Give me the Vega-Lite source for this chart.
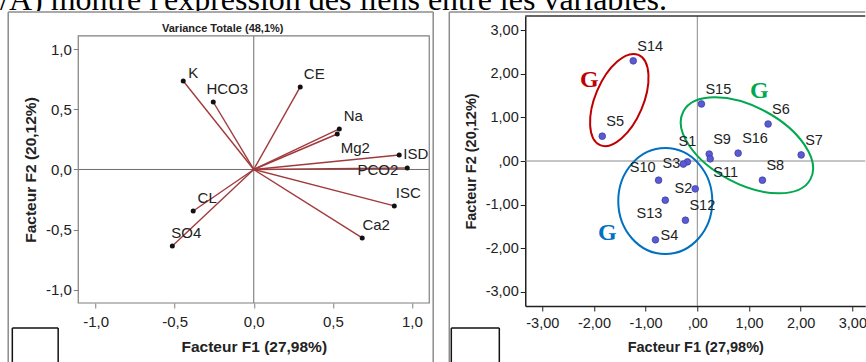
{
  "$schema": "https://vega.github.io/schema/vega-lite/v6.json",
  "padding": {"left": 0, "top": 0, "right": 0, "bottom": 0},
  "background": "white",
  "config": {"view": {"stroke": null}, "font": "Liberation Sans", "axis": {"grid": false}},
  "datasets": {
    "loadings": [
      {"var": "K", "x": -0.446, "y": 0.736},
      {"var": "HCO3", "x": -0.256, "y": 0.561},
      {"var": "CE", "x": 0.294, "y": 0.686},
      {"var": "Na", "x": 0.541, "y": 0.337},
      {"var": "Mg2", "x": 0.528, "y": 0.295},
      {"var": "ISD", "x": 0.92, "y": 0.121},
      {"var": "PCO2", "x": 0.971, "y": 0.012},
      {"var": "ISC", "x": 0.889, "y": -0.303},
      {"var": "Ca2", "x": 0.686, "y": -0.569},
      {"var": "CL", "x": -0.383, "y": -0.345},
      {"var": "SO4", "x": -0.515, "y": -0.636}
    ],
    "scores": [
      {"id": "S14", "x": -1.24, "y": 2.3},
      {"id": "S5", "x": -1.84, "y": 0.57},
      {"id": "S15", "x": 0.08, "y": 1.31},
      {"id": "S6", "x": 1.37, "y": 0.85},
      {"id": "S7", "x": 2.01, "y": 0.14},
      {"id": "S16", "x": 0.79, "y": 0.18},
      {"id": "S9", "x": 0.23, "y": 0.16},
      {"id": "S11", "x": 0.25, "y": 0.05},
      {"id": "S1", "x": -0.19, "y": -0.02},
      {"id": "S3", "x": -0.27, "y": -0.07},
      {"id": "S10", "x": -0.75, "y": -0.44},
      {"id": "S2", "x": -0.04, "y": -0.64},
      {"id": "S13", "x": -0.62, "y": -0.9},
      {"id": "S12", "x": -0.23, "y": -1.36},
      {"id": "S4", "x": -0.81, "y": -1.81},
      {"id": "S8", "x": 1.26, "y": -0.44}
    ]
  },
  "spacing": 0,
  "vconcat": [
    {
      "width": 700,
      "height": 11,
      "data": {"values": [{"phrase": "/A) montre l'expression des liens entre les variables."}]},
      "mark": {"type": "text", "align": "left", "baseline": "alphabetic", "font": "Liberation Serif", "fontSize": 32, "color": "#000", "clip": true},
      "encoding": {
        "x": {"datum": 0, "type": "quantitative", "scale": {"domain": [0, 1]}, "axis": null},
        "y": {"datum": 1.5, "type": "quantitative", "scale": {"domain": [0, 11]}, "axis": null},
        "text": {"field": "phrase"}
      }
    },
    {
      "spacing": 6.25,
      "hconcat": [
        {
          "width": 1,
          "height": 1,
          "data": {"values": []},
          "mark": {"type": "point"},
          "encoding": {}
        },
        {
          "spacing": 14,
          "hconcat": [
            {
              "width": 351,
              "height": 287,
              "view": {"stroke": null},
              "layer": [
                {
                  "data": {"values": [{}]},
                  "mark": {"type": "rule", "color": "#6e6e6e", "strokeWidth": 1},
                  "encoding": {
                    "x": {
                      "datum": 0, "type": "quantitative",
                      "scale": {"domain": [-1.11, 1.11], "nice": false, "zero": false},
                      "axis": {
                        "values": [-1, -0.5, 0, 0.5, 1],
                        "labelExpr": "replace(replace(format(datum.value, '.1f'), '.', ','), '\u2212', '-')",
                        "domain": false, "tickSize": 5, "tickColor": "#7f7f7f",
                        "labelFontSize": 15, "labelColor": "#222", "labelPadding": 6,
                        "labelFlush": false, "labelOverlap": false,
                        "title": "Facteur F1 (27,98%)", "titleFontSize": 15.5, "titleFontWeight": "bold",
                        "titleColor": "#222", "titlePadding": 10
                      }
                    },
                    "y": {"datum": -1.11, "type": "quantitative"},
                    "y2": {"datum": 1.11}
                  }
                },
                {
                  "data": {"values": [{}]},
                  "mark": {"type": "rule", "color": "#6e6e6e", "strokeWidth": 1},
                  "encoding": {
                    "y": {
                      "datum": 0, "type": "quantitative",
                      "scale": {"domain": [-1.11, 1.276], "nice": false, "zero": false},
                      "axis": {
                        "values": [-1, -0.5, 0, 0.5, 1],
                        "labelExpr": "replace(replace(format(datum.value, '.1f'), '.', ','), '\u2212', '-')",
                        "domain": false, "tickSize": 5, "tickColor": "#7f7f7f",
                        "labelFontSize": 15, "labelColor": "#222", "labelPadding": 2,
                        "labelFlush": false, "labelOverlap": false,
                        "title": "Facteur F2 (20,12%)", "titleFontSize": 15.5, "titleFontWeight": "bold",
                        "titleColor": "#222", "titleX": -40, "titleY": 153.5
                      }
                    }
                  }
                },
                {
                  "data": {"values": [{}]},
                  "mark": {"type": "rect", "filled": false, "color": "#7f7f7f", "strokeWidth": 1.2},
                  "encoding": {
                    "x": {"datum": -1.11, "type": "quantitative"},
                    "x2": {"datum": 1.11},
                    "y": {"datum": -1.11, "type": "quantitative"},
                    "y2": {"datum": 1.11}
                  }
                },
                {
                  "data": {"name": "loadings"},
                  "mark": {"type": "rule", "color": "#a13a3c", "strokeWidth": 1.4},
                  "encoding": {
                    "x": {"field": "x", "type": "quantitative"},
                    "y": {"field": "y", "type": "quantitative"},
                    "x2": {"datum": 0},
                    "y2": {"datum": 0}
                  }
                },
                {
                  "data": {"name": "loadings"},
                  "mark": {"type": "point", "filled": true, "size": 25, "color": "#111", "opacity": 1},
                  "encoding": {"x": {"field": "x", "type": "quantitative"}, "y": {"field": "y", "type": "quantitative"}}
                },
                {
                  "data": {"name": "loadings"},
                  "transform": [{"filter": {"field": "var", "oneOf": ["HCO3", "CE", "Na", "ISC", "Ca2", "CL", "SO4"]}}],
                  "mark": {"type": "text", "align": "center", "baseline": "middle", "dx": 14, "dy": -13, "fontSize": 15, "color": "#222"},
                  "encoding": {"x": {"field": "x", "type": "quantitative"}, "y": {"field": "y", "type": "quantitative"}, "text": {"field": "var"}}
                },
                {
                  "data": {"name": "loadings"},
                  "transform": [{"filter": {"field": "var", "oneOf": ["K"]}}],
                  "mark": {"type": "text", "align": "center", "baseline": "middle", "dx": 10, "dy": -8, "fontSize": 15, "color": "#222"},
                  "encoding": {"x": {"field": "x", "type": "quantitative"}, "y": {"field": "y", "type": "quantitative"}, "text": {"field": "var"}}
                },
                {
                  "data": {"name": "loadings"},
                  "transform": [{"filter": {"field": "var", "oneOf": ["Mg2"]}}],
                  "mark": {"type": "text", "align": "center", "baseline": "middle", "dx": 18, "dy": 14, "fontSize": 15, "color": "#222"},
                  "encoding": {"x": {"field": "x", "type": "quantitative"}, "y": {"field": "y", "type": "quantitative"}, "text": {"field": "var"}}
                },
                {
                  "data": {"name": "loadings"},
                  "transform": [{"filter": {"field": "var", "oneOf": ["ISD"]}}],
                  "mark": {"type": "text", "align": "left", "baseline": "middle", "dx": 4, "dy": -1, "fontSize": 15, "color": "#222"},
                  "encoding": {"x": {"field": "x", "type": "quantitative"}, "y": {"field": "y", "type": "quantitative"}, "text": {"field": "var"}}
                },
                {
                  "data": {"name": "loadings"},
                  "transform": [{"filter": {"field": "var", "oneOf": ["PCO2"]}}],
                  "mark": {"type": "text", "align": "right", "baseline": "middle", "dx": -9, "dy": 2, "fontSize": 15, "color": "#222"},
                  "encoding": {"x": {"field": "x", "type": "quantitative"}, "y": {"field": "y", "type": "quantitative"}, "text": {"field": "var"}}
                },
                {
                  "data": {"values": [{}]},
                  "mark": {"type": "text", "text": "Variance Totale (48,1%)", "fontSize": 11, "fontWeight": "bold", "color": "#222", "align": "center", "baseline": "middle"},
                  "encoding": {"x": {"datum": -0.196, "type": "quantitative"}, "y": {"datum": 1.168, "type": "quantitative"}}
                },
                {
                  "data": {"values": [{}]},
                  "mark": {"type": "rule", "color": "#8c8c8c", "strokeWidth": 1.5},
                  "encoding": {"x": {"datum": -1.553, "type": "quantitative"}, "y": {"datum": 1.309, "type": "quantitative"}, "y2": {"datum": -1.6}}
                },
                {
                  "data": {"values": [{}]},
                  "mark": {"type": "rule", "color": "#8c8c8c", "strokeWidth": 1.5},
                  "encoding": {"y": {"datum": 1.309, "type": "quantitative"}, "x": {"datum": -1.553, "type": "quantitative"}, "x2": {"datum": 1.135}}
                },
                {
                  "data": {"values": [{}]},
                  "mark": {"type": "rule", "color": "#8c8c8c", "strokeWidth": 1.5},
                  "encoding": {"x": {"datum": 1.135, "type": "quantitative"}, "y": {"datum": 1.309, "type": "quantitative"}, "y2": {"datum": -1.6}}
                },
                {
                  "data": {"values": [{}]},
                  "mark": {"type": "rule", "color": "#111", "strokeWidth": 1.5},
                  "encoding": {"x": {"datum": -1.527, "type": "quantitative"}, "y": {"datum": -1.318, "type": "quantitative"}, "y2": {"datum": -1.6}}
                },
                {
                  "data": {"values": [{}]},
                  "mark": {"type": "rule", "color": "#111", "strokeWidth": 1.5},
                  "encoding": {"y": {"datum": -1.318, "type": "quantitative"}, "x": {"datum": -1.527, "type": "quantitative"}, "x2": {"datum": -1.237}}
                },
                {
                  "data": {"values": [{}]},
                  "mark": {"type": "rule", "color": "#111", "strokeWidth": 1.5},
                  "encoding": {"x": {"datum": -1.237, "type": "quantitative"}, "y": {"datum": -1.318, "type": "quantitative"}, "y2": {"datum": -1.6}}
                }
              ]
            },
            {
              "width": 340,
              "height": 290,
              "view": {"stroke": null},
              "layer": [
                {
                  "data": {"values": [{}]},
                  "mark": {"type": "rule", "color": "#8a8a8a", "strokeWidth": 1},
                  "encoding": {
                    "x": {
                      "datum": 0, "type": "quantitative",
                      "scale": {"domain": [-3.33, 3.25], "nice": false, "zero": false},
                      "axis": {
                        "values": [-3, -2, -1, 0, 1, 2, 3],
                        "labelExpr": "datum.value == 0 ? ',00' : replace(replace(format(datum.value, '.2f'), '.', ','), '\u2212', '-')",
                        "domain": true, "domainColor": "#222", "domainWidth": 1.5,
                        "tickSize": 5, "tickColor": "#222",
                        "labelFontSize": 14.5, "labelColor": "#222", "labelPadding": 5,
                        "labelFlush": false, "labelOverlap": false,
                        "title": "Facteur F1 (27,98%)", "titleFontSize": 14.5, "titleFontWeight": "bold",
                        "titleColor": "#222", "titlePadding": 11
                      }
                    }
                  }
                },
                {
                  "data": {"values": [{}]},
                  "mark": {"type": "rule", "color": "#8a8a8a", "strokeWidth": 1},
                  "encoding": {
                    "y": {
                      "datum": 0, "type": "quantitative",
                      "scale": {"domain": [-3.33, 3.33], "nice": false, "zero": false},
                      "axis": {
                        "values": [-3, -2, -1, 0, 1, 2, 3],
                        "labelExpr": "datum.value == 0 ? ',00' : replace(replace(format(datum.value, '.2f'), '.', ','), '\u2212', '-')",
                        "domain": true, "domainColor": "#222", "domainWidth": 1.5,
                        "tickSize": 5, "tickColor": "#222",
                        "labelFontSize": 14.5, "labelColor": "#222", "labelPadding": 2,
                        "labelFlush": false, "labelOverlap": false,
                        "title": "Facteur F2 (20,12%)", "titleFontSize": 14.5, "titleFontWeight": "bold",
                        "titleColor": "#222", "titlePadding": 7
                      }
                    }
                  }
                },
                {
                  "data": {"values": [{}]},
                  "mark": {"type": "rule", "color": "#333", "strokeWidth": 1.5},
                  "encoding": {"y": {"datum": 3.33, "type": "quantitative"}, "x": {"datum": -3.33, "type": "quantitative"}, "x2": {"datum": 3.25}}
                },
                {
                  "data": {"values": [{}]},
                  "mark": {"type": "point", "shape": "M1,0C1,0.2706,0.5523,0.49,0,0.49C-0.5523,0.49,-1,0.2706,-1,0C-1,-0.2706,-0.5523,-0.49,0,-0.49C0.5523,-0.49,1,-0.2706,1,0Z", "size": 9604, "angle": 293, "filled": false, "color": "#c00000", "strokeWidth": 2, "opacity": 1},
                  "encoding": {"x": {"datum": -1.51, "type": "quantitative"}, "y": {"datum": 1.4, "type": "quantitative"}}
                },
                {
                  "data": {"values": [{}]},
                  "mark": {"type": "point", "shape": "M1,0C1,0.296,0.5523,0.536,0,0.536C-0.5523,0.536,-1,0.296,-1,0C-1,-0.296,-0.5523,-0.536,0,-0.536C0.5523,-0.536,1,-0.296,1,0Z", "size": 20736, "angle": 28, "filled": false, "color": "#00a84f", "strokeWidth": 2, "opacity": 1},
                  "encoding": {"x": {"datum": 0.96, "type": "quantitative"}, "y": {"datum": 0.36, "type": "quantitative"}}
                },
                {
                  "data": {"values": [{}]},
                  "mark": {"type": "point", "shape": "M1,0C1,0.4899,0.5523,0.887,0,0.887C-0.5523,0.887,-1,0.4899,-1,0C-1,-0.4899,-0.5523,-0.887,0,-0.887C0.5523,-0.887,1,-0.4899,1,0Z", "size": 11236, "angle": 90, "filled": false, "color": "#0070c0", "strokeWidth": 2, "opacity": 1},
                  "encoding": {"x": {"datum": -0.62, "type": "quantitative"}, "y": {"datum": -0.92, "type": "quantitative"}}
                },
                {
                  "data": {"name": "scores"},
                  "mark": {"type": "point", "filled": true, "size": 45, "fill": "#5a5ad2", "stroke": "#3a3aa8", "strokeWidth": 0.7, "opacity": 1},
                  "encoding": {"x": {"field": "x", "type": "quantitative"}, "y": {"field": "y", "type": "quantitative"}}
                },
                {
                  "data": {"name": "scores"},
                  "transform": [{"filter": {"field": "id", "oneOf": ["S14", "S5", "S15", "S6", "S7", "S16", "S9", "S8", "S12"]}}],
                  "mark": {"type": "text", "align": "left", "baseline": "middle", "dx": 4, "dy": -14, "fontSize": 14.5, "color": "#222"},
                  "encoding": {"x": {"field": "x", "type": "quantitative"}, "y": {"field": "y", "type": "quantitative"}, "text": {"field": "id"}}
                },
                {
                  "data": {"name": "scores"},
                  "transform": [{"filter": {"field": "id", "oneOf": ["S11"]}}],
                  "mark": {"type": "text", "align": "left", "baseline": "middle", "dx": 3, "dy": 14, "fontSize": 14.5, "color": "#222"},
                  "encoding": {"x": {"field": "x", "type": "quantitative"}, "y": {"field": "y", "type": "quantitative"}, "text": {"field": "id"}}
                },
                {
                  "data": {"name": "scores"},
                  "transform": [{"filter": {"field": "id", "oneOf": ["S13"]}}],
                  "mark": {"type": "text", "align": "right", "baseline": "middle", "dx": -3, "dy": 14, "fontSize": 14.5, "color": "#222"},
                  "encoding": {"x": {"field": "x", "type": "quantitative"}, "y": {"field": "y", "type": "quantitative"}, "text": {"field": "id"}}
                },
                {
                  "data": {"name": "scores"},
                  "transform": [{"filter": {"field": "id", "oneOf": ["S10"]}}],
                  "mark": {"type": "text", "align": "right", "baseline": "middle", "dx": -3, "dy": -12, "fontSize": 14.5, "color": "#222"},
                  "encoding": {"x": {"field": "x", "type": "quantitative"}, "y": {"field": "y", "type": "quantitative"}, "text": {"field": "id"}}
                },
                {
                  "data": {"name": "scores"},
                  "transform": [{"filter": {"field": "id", "oneOf": ["S1"]}}],
                  "mark": {"type": "text", "align": "center", "baseline": "middle", "dx": 0, "dy": -20, "fontSize": 14.5, "color": "#222"},
                  "encoding": {"x": {"field": "x", "type": "quantitative"}, "y": {"field": "y", "type": "quantitative"}, "text": {"field": "id"}}
                },
                {
                  "data": {"name": "scores"},
                  "transform": [{"filter": {"field": "id", "oneOf": ["S3", "S2"]}}],
                  "mark": {"type": "text", "align": "right", "baseline": "middle", "dx": -3, "dy": 0, "fontSize": 14.5, "color": "#222"},
                  "encoding": {"x": {"field": "x", "type": "quantitative"}, "y": {"field": "y", "type": "quantitative"}, "text": {"field": "id"}}
                },
                {
                  "data": {"name": "scores"},
                  "transform": [{"filter": {"field": "id", "oneOf": ["S4"]}}],
                  "mark": {"type": "text", "align": "left", "baseline": "middle", "dx": 5, "dy": -4, "fontSize": 14.5, "color": "#222"},
                  "encoding": {"x": {"field": "x", "type": "quantitative"}, "y": {"field": "y", "type": "quantitative"}, "text": {"field": "id"}}
                },
                {
                  "data": {"values": [{}]},
                  "mark": {"type": "text", "text": "G", "font": "Liberation Serif", "fontWeight": "bold", "fontSize": 24, "color": "#c00000", "align": "center", "baseline": "middle"},
                  "encoding": {"x": {"datum": -2.09, "type": "quantitative"}, "y": {"datum": 1.87, "type": "quantitative"}}
                },
                {
                  "data": {"values": [{}]},
                  "mark": {"type": "text", "text": "G", "font": "Liberation Serif", "fontWeight": "bold", "fontSize": 24, "color": "#00a84f", "align": "center", "baseline": "middle"},
                  "encoding": {"x": {"datum": 1.2, "type": "quantitative"}, "y": {"datum": 1.61, "type": "quantitative"}}
                },
                {
                  "data": {"values": [{}]},
                  "mark": {"type": "text", "text": "G", "font": "Liberation Serif", "fontWeight": "bold", "fontSize": 24, "color": "#0070c0", "align": "center", "baseline": "middle"},
                  "encoding": {"x": {"datum": -1.74, "type": "quantitative"}, "y": {"datum": -1.65, "type": "quantitative"}}
                },
                {
                  "data": {"values": [{}]},
                  "mark": {"type": "rule", "color": "#8c8c8c", "strokeWidth": 1.5},
                  "encoding": {"x": {"datum": -4.8, "type": "quantitative"}, "y": {"datum": 3.42, "type": "quantitative"}, "y2": {"datum": -4.616}}
                },
                {
                  "data": {"values": [{}]},
                  "mark": {"type": "rule", "color": "#8c8c8c", "strokeWidth": 1.5},
                  "encoding": {"y": {"datum": 3.42, "type": "quantitative"}, "x": {"datum": -4.8, "type": "quantitative"}, "x2": {"datum": 3.25}}
                },
                {
                  "data": {"values": [{}]},
                  "mark": {"type": "rule", "color": "#111", "strokeWidth": 1.5},
                  "encoding": {"x": {"datum": -4.761, "type": "quantitative"}, "y": {"datum": -3.836, "type": "quantitative"}, "y2": {"datum": -4.616}}
                },
                {
                  "data": {"values": [{}]},
                  "mark": {"type": "rule", "color": "#111", "strokeWidth": 1.5},
                  "encoding": {"y": {"datum": -3.836, "type": "quantitative"}, "x": {"datum": -4.761, "type": "quantitative"}, "x2": {"datum": -3.832}}
                },
                {
                  "data": {"values": [{}]},
                  "mark": {"type": "rule", "color": "#111", "strokeWidth": 1.5},
                  "encoding": {"x": {"datum": -3.832, "type": "quantitative"}, "y": {"datum": -3.836, "type": "quantitative"}, "y2": {"datum": -4.616}}
                }
              ]
            }
          ]
        }
      ]
    }
  ]
}
